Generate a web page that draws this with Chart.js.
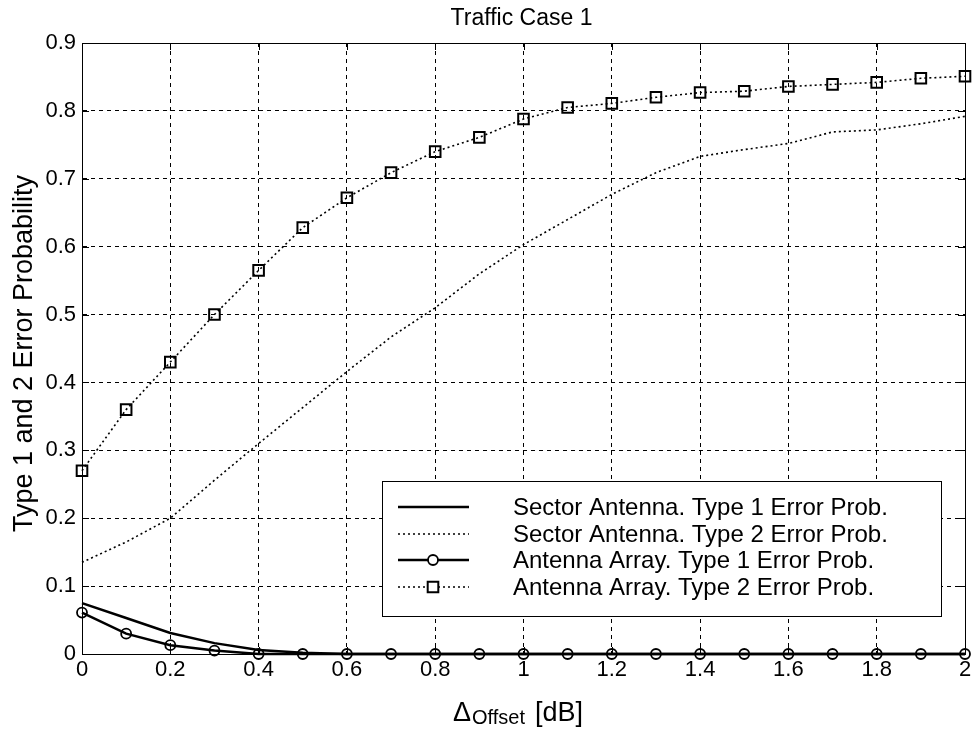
<!DOCTYPE html>
<html>
<head>
<meta charset="utf-8">
<script src="https://cdn.jsdelivr.net/npm/chart.js@4"></script>
<style>
  html, body { margin: 0; background: #fff; }
  #wrap { width: 975px; height: 730px; }
</style>
</head>
<body>
<div id="wrap"><canvas id="chart"></canvas></div>
<script>
// --- Data ---
const offsetDb = [0, 0.1, 0.2, 0.3, 0.4, 0.5, 0.6, 0.7, 0.8, 0.9, 1, 1.1, 1.2, 1.3, 1.4, 1.5, 1.6, 1.7, 1.8, 1.9, 2];
const sectorType1 = [0.075, 0.053, 0.031, 0.016, 0.006, 0.002, 0, 0, 0, 0, 0, 0, 0, 0, 0, 0, 0, 0, 0, 0, 0];
const sectorType2 = [0.135, 0.165, 0.2, 0.256, 0.31, 0.363, 0.416, 0.467, 0.51, 0.56, 0.603, 0.64, 0.677, 0.709, 0.733, 0.743, 0.752, 0.769, 0.772, 0.781, 0.792];
const arrayType1 = [0.061, 0.03, 0.013, 0.005, 0, 0, 0, 0, 0, 0, 0, 0, 0, 0, 0, 0, 0, 0, 0, 0, 0];
const arrayType2 = [0.27, 0.36, 0.43, 0.5, 0.565, 0.628, 0.672, 0.709, 0.74, 0.761, 0.788, 0.805, 0.811, 0.82, 0.827, 0.829, 0.836, 0.839, 0.842, 0.848, 0.851];
const seriesLabels = [
  "Sector Antenna. Type 1 Error Prob.",
  "Sector Antenna. Type 2 Error Prob.",
  "Antenna Array. Type 1 Error Prob.",
  "Antenna Array. Type 2 Error Prob.",
];
const xTickValues = [0, 0.2, 0.4, 0.6, 0.8, 1, 1.2, 1.4, 1.6, 1.8, 2];
const yTickValues = [0, 0.1, 0.2, 0.3, 0.4, 0.5, 0.6, 0.7, 0.8, 0.9];

const FONT = '"Liberation Sans", Arial, Helvetica, sans-serif';
const DOT = [2, 3];

const toPoints = (ys) => offsetDb.map((x, i) => ({ x, y: ys[i] }));
const fmt = (v) => String(Number(v.toFixed(1)));

// --- Title, axis labels, frame, tick marks and legend ---
const matlabDecor = {
  id: "matlabDecor",
  afterDraw(chart) {
    const { ctx, chartArea: a, scales } = chart;
    ctx.save();
    ctx.fillStyle = "#000";
    ctx.strokeStyle = "#000";

    // title
    ctx.font = `23px ${FONT}`;
    ctx.textAlign = "center";
    ctx.textBaseline = "middle";
    ctx.fillText("Traffic Case 1", (a.left + a.right) / 2 - 2, 19);

    // frame
    ctx.lineWidth = 1;
    ctx.setLineDash([]);
    ctx.strokeRect(a.left + 0.5, a.top + 0.5, a.right - a.left, a.bottom - a.top);

    // inward tick marks on all four sides
    ctx.beginPath();
    xTickValues.forEach((v) => {
      const px = Math.round(scales.x.getPixelForValue(v)) + 0.5;
      ctx.moveTo(px, a.bottom); ctx.lineTo(px, a.bottom - 7);
      ctx.moveTo(px, a.top); ctx.lineTo(px, a.top + 7);
    });
    yTickValues.forEach((v) => {
      const py = Math.round(scales.y.getPixelForValue(v)) + 0.5;
      ctx.moveTo(a.left, py); ctx.lineTo(a.left + 7, py);
      ctx.moveTo(a.right, py); ctx.lineTo(a.right - 7, py);
    });
    ctx.stroke();

    // y axis label
    ctx.save();
    ctx.translate(25, (a.top + a.bottom) / 2 + 5);
    ctx.rotate(-Math.PI / 2);
    ctx.font = `27px ${FONT}`;
    ctx.textAlign = "center";
    ctx.textBaseline = "middle";
    ctx.fillText("Type 1 and 2 Error Probability", 0, 0);
    ctx.restore();

    // x axis label: Δ with subscript "Offset"
    const big = `27px ${FONT}`;
    const small = `20px ${FONT}`;
    ctx.textAlign = "left";
    ctx.textBaseline = "alphabetic";
    ctx.font = big;
    const wDelta = ctx.measureText("\u0394").width;
    const wDb = ctx.measureText("[dB]").width;
    ctx.font = small;
    const wSub = ctx.measureText("Offset").width;
    const gap = 10;
    const x0 = 453;
    const base = 721;
    ctx.font = big;
    ctx.fillText("\u0394", x0, base);
    ctx.font = small;
    ctx.fillText("Offset", x0 + wDelta + 1, base + 3);
    ctx.font = big;
    ctx.fillText("[dB]", x0 + wDelta + 1 + wSub + gap, base);

    // legend
    const box = { left: 382, top: 481, right: 941, bottom: 616 };
    ctx.fillStyle = "#fff";
    ctx.fillRect(box.left, box.top, box.right - box.left, box.bottom - box.top);
    ctx.lineWidth = 1;
    ctx.strokeRect(box.left + 0.5, box.top + 0.5, box.right - box.left, box.bottom - box.top);
    const rowY = [507, 534, 560, 587];
    chart.data.datasets.forEach((ds, i) => {
      const y = rowY[i];
      ctx.strokeStyle = "#000";
      ctx.lineWidth = ds.borderWidth;
      ctx.setLineDash(ds.borderDash || []);
      ctx.beginPath();
      ctx.moveTo(398, y); ctx.lineTo(469, y);
      ctx.stroke();
      ctx.setLineDash([]);
      if (ds.pointRadius > 0) {
        ctx.fillStyle = "#fff";
        ctx.lineWidth = ds.pointBorderWidth;
        Chart.helpers.drawPoint(ctx, {
          pointStyle: ds.pointStyle,
          radius: ds.pointRadius,
          borderWidth: ds.pointBorderWidth,
          rotation: 0,
        }, 433, y);
      }
      ctx.fillStyle = "#000";
      ctx.font = `24px ${FONT}`;
      ctx.textAlign = "left";
      ctx.textBaseline = "middle";
      ctx.fillText(ds.label, 513, y + 1);
    });
    ctx.restore();
  },
};

new Chart(document.getElementById("chart"), {
  type: "line",
  data: {
    datasets: [
      {
        label: seriesLabels[0],
        data: toPoints(sectorType1),
        borderColor: "#000",
        borderWidth: 2.5,
        pointRadius: 0,
        clip: false,
      },
      {
        label: seriesLabels[1],
        data: toPoints(sectorType2),
        borderColor: "#000",
        borderWidth: 1.6,
        borderDash: DOT,
        pointRadius: 0,
        clip: false,
      },
      {
        label: seriesLabels[2],
        data: toPoints(arrayType1),
        borderColor: "#000",
        borderWidth: 2.5,
        pointStyle: "circle",
        pointRadius: 5,
        pointBorderWidth: 1.8,
        pointBorderColor: "#000",
        pointBackgroundColor: "rgba(0,0,0,0)",
        clip: false,
      },
      {
        label: seriesLabels[3],
        data: toPoints(arrayType2),
        borderColor: "#000",
        borderWidth: 1.6,
        borderDash: DOT,
        pointStyle: "rect",
        pointRadius: 7.5,
        pointBorderWidth: 2,
        pointBorderColor: "#000",
        pointBackgroundColor: "rgba(0,0,0,0)",
        clip: false,
      },
    ],
  },
  options: {
    responsive: true,
    maintainAspectRatio: false,
    animation: false,
    layout: { padding: { top: 43, right: 10, left: 0, bottom: 0 } },
    plugins: {
      legend: { display: false },
      title: { display: false },
      tooltip: { enabled: false },
    },
    scales: {
      x: {
        type: "linear",
        min: 0,
        max: 2,
        afterBuildTicks: (s) => { s.ticks = xTickValues.map((v) => ({ value: v })); },
        afterFit: (s) => { s.height = 76; },
        grid: { color: "#000", lineWidth: 1, drawTicks: false },
        border: { display: true, color: "#000", dash: [4, 4] },
        ticks: {
          color: "#000",
          font: { family: FONT, size: 22 },
          padding: 3,
          maxRotation: 0,
          autoSkip: false,
          callback: (v) => fmt(v),
        },
      },
      y: {
        min: 0,
        max: 0.9,
        afterBuildTicks: (s) => { s.ticks = yTickValues.map((v) => ({ value: v })); },
        afterFit: (s) => { s.width = 82; },
        grid: { color: "#000", lineWidth: 1, drawTicks: false },
        border: { display: true, color: "#000", dash: [4, 4] },
        ticks: {
          color: "#000",
          font: { family: FONT, size: 22 },
          padding: 6,
          autoSkip: false,
          callback: (v) => fmt(v),
        },
      },
    },
  },
  plugins: [matlabDecor],
});
</script>
</body>
</html>
